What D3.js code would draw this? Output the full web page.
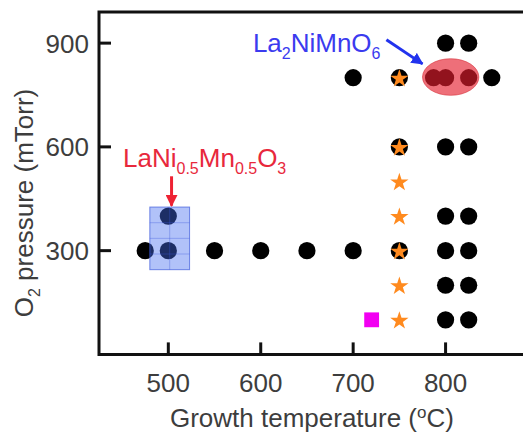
<!DOCTYPE html>
<html>
<head>
<meta charset="utf-8">
<script src="https://cdn.jsdelivr.net/npm/d3@7"></script>
<style>
  html, body { margin: 0; padding: 0; background: #fff; }
  svg { display: block; }
  text { font-family: "Liberation Sans", Arial, sans-serif; }
</style>
</head>
<body>
<svg id="chart" width="523" height="434"></svg>
<script>
// Growth conditions explored (temperature in °C, O2 pressure in mTorr)
const circleTemp     = [800, 825, 700, 750, 787, 800, 825, 850, 750, 800, 825, 500, 800, 825, 475, 500, 550, 600, 650, 700, 750, 800, 825, 800, 825, 800, 825];
const circlePressure = [900, 900, 800, 800, 800, 800, 800, 800, 600, 600, 600, 400, 400, 400, 300, 300, 300, 300, 300, 300, 300, 300, 300, 200, 200, 100, 100];

const starTemp     = [750, 750, 750, 750, 750, 750, 750];
const starPressure = [800, 600, 500, 400, 300, 200, 100];

const squareTemp     = [720];
const squarePressure = [100];

const xTicks = [500, 600, 700, 800];
const yTicks = [300, 600, 900];

// Highlighted regions (data units)
const doubleRegionTemp     = [775, 836];
const doubleRegionPressure = [749, 855];
const singleRegionTemp     = [480, 523];
const singleRegionPressure = [245, 426];

const svg = d3.select("#chart");

const x = d3.scaleLinear().domain([425, 900]).range([99, 538]);
const y = d3.scaleLinear().domain([0, 990]).range([354.4, 12]);

const ink = "#111";
const grey = "#3d3d3d";

// Blue box with faint grid
const bx0 = x(singleRegionTemp[0]), bx1 = x(singleRegionTemp[1]);
const by0 = y(singleRegionPressure[1]), by1 = y(singleRegionPressure[0]);

// Points (drawn before translucent overlays)
const pts = circleTemp.map((t, i) => ({t, p: circlePressure[i]}));
svg.append("g").selectAll("circle").data(pts).join("circle")
  .attr("cx", d => x(d.t)).attr("cy", d => y(d.p)).attr("r", 8.6)
  .attr("fill", "#000");

const stars = starTemp.map((t, i) => ({t, p: starPressure[i]}));
svg.append("g").selectAll("path").data(stars).join("path")
  .attr("transform", d => `translate(${x(d.t)},${y(d.p) + 1})`)
  .attr("d", d3.symbol().type(d3.symbolStar).size(104))
  .attr("fill", "#ff8a1e");

const squares = squareTemp.map((t, i) => ({t, p: squarePressure[i]}));
svg.append("g").selectAll("path").data(squares).join("path")
  .attr("transform", d => `translate(${x(d.t)},${y(d.p)})`)
  .attr("d", d3.symbol().type(d3.symbolSquare).size(220))
  .attr("fill", "#f200f2");

// Translucent blue box
svg.append("rect")
  .attr("x", bx0).attr("y", by0).attr("width", bx1 - bx0).attr("height", by1 - by0)
  .attr("fill", "rgba(70,110,240,0.42)")
  .attr("stroke", "rgba(60,90,220,0.7)").attr("stroke-width", 1);
const gridG = svg.append("g").attr("stroke", "rgba(60,90,220,0.35)").attr("stroke-width", 1);
gridG.append("line").attr("x1", (bx0 + bx1) / 2).attr("x2", (bx0 + bx1) / 2).attr("y1", by0).attr("y2", by1);
[0.25, 0.5, 0.75].forEach(f => {
  const yy = by0 + (by1 - by0) * f;
  gridG.append("line").attr("x1", bx0).attr("x2", bx1).attr("y1", yy).attr("y2", yy);
});

// Translucent red ellipse
const ecx = (x(doubleRegionTemp[0]) + x(doubleRegionTemp[1])) / 2;
const ecy = (y(doubleRegionPressure[0]) + y(doubleRegionPressure[1])) / 2;
svg.append("ellipse")
  .attr("cx", ecx).attr("cy", ecy)
  .attr("rx", (x(doubleRegionTemp[1]) - x(doubleRegionTemp[0])) / 2)
  .attr("ry", (y(doubleRegionPressure[0]) - y(doubleRegionPressure[1])) / 2)
  .attr("fill", "rgba(228,30,45,0.64)")
  .attr("stroke", "rgba(210,30,40,0.5)").attr("stroke-width", 1);

// Axes frame (right edge runs past the visible area)
svg.append("path")
  .attr("d", `M${x.range()[1] + 5},${y.range()[1]} H${x.range()[0]} V${y.range()[0]} H${x.range()[1] + 5}`)
  .attr("fill", "none").attr("stroke", ink).attr("stroke-width", 3)
  .attr("stroke-linejoin", "miter");

// Inward ticks
svg.append("g").selectAll("line").data(xTicks).join("line")
  .attr("x1", d => x(d)).attr("x2", d => x(d))
  .attr("y1", y.range()[0]).attr("y2", y.range()[0] - 12)
  .attr("stroke", ink).attr("stroke-width", 3);
svg.append("g").selectAll("line").data(yTicks).join("line")
  .attr("x1", x.range()[0]).attr("x2", x.range()[0] + 12)
  .attr("y1", d => y(d)).attr("y2", d => y(d))
  .attr("stroke", ink).attr("stroke-width", 3);

// Tick labels
svg.append("g").selectAll("text").data(xTicks).join("text")
  .attr("x", d => x(d)).attr("y", 392)
  .attr("text-anchor", "middle").attr("font-size", 26).attr("fill", grey)
  .text(d => d);
svg.append("g").selectAll("text").data(yTicks).join("text")
  .attr("x", 89).attr("y", d => y(d) + 9.5)
  .attr("text-anchor", "end").attr("font-size", 26).attr("fill", grey)
  .text(d => d);

// Axis titles
const xt = svg.append("text")
  .attr("x", (x(500) + x(800)) / 2 + 5).attr("y", 427)
  .attr("text-anchor", "middle").attr("font-size", 26).attr("fill", grey);
xt.append("tspan").text("Growth temperature (");
xt.append("tspan").attr("font-size", 17).attr("dy", -9).text("o");
xt.append("tspan").attr("dy", 9).text("C)");

const yt = svg.append("text")
  .attr("transform", "translate(33,203) rotate(-90)")
  .attr("text-anchor", "middle").attr("font-size", 26).attr("fill", grey);
yt.append("tspan").text("O");
yt.append("tspan").attr("font-size", 16).attr("dy", 7).text("2");
yt.append("tspan").attr("dy", -7).text(" pressure (mTorr)");

// Arrow markers
const defs = svg.append("defs");
function marker(id, color) {
  defs.append("marker").attr("id", id)
    .attr("viewBox", "0 0 10 10").attr("refX", 9).attr("refY", 5)
    .attr("markerWidth", 4).attr("markerHeight", 4)
    .attr("markerUnits", "strokeWidth").attr("orient", "auto")
    .append("path").attr("d", "M0,0 L10,5 L0,10 Z").attr("fill", color);
}
marker("arrowBlue", "#2233ee");
marker("arrowRed", "#ee2233");

// La2NiMnO6 label and arrow
const blue = "#3b3bef";
const lb = svg.append("text").attr("x", x(591.5)).attr("y", y(875))
  .attr("font-size", 26).attr("fill", blue);
lb.append("tspan").text("La");
lb.append("tspan").attr("font-size", 16).attr("dy", 7.5).text("2");
lb.append("tspan").attr("dy", -7.5).text("NiMnO");
lb.append("tspan").attr("font-size", 16).attr("dy", 7.5).text("6");
svg.append("line")
  .attr("x1", x(736)).attr("y1", y(910)).attr("x2", x(775)).attr("y2", y(840))
  .attr("stroke", "#2233ee").attr("stroke-width", 3)
  .attr("marker-end", "url(#arrowBlue)");

// LaNi0.5Mn0.5O3 label and arrow
const red = "#e8283c";
const lr = svg.append("text").attr("x", x(451)).attr("y", y(543))
  .attr("font-size", 26).attr("fill", red);
lr.append("tspan").text("LaNi");
lr.append("tspan").attr("font-size", 16).attr("dy", 7.5).text("0.5");
lr.append("tspan").attr("dy", -7.5).text("Mn");
lr.append("tspan").attr("font-size", 16).attr("dy", 7.5).text("0.5");
lr.append("tspan").attr("dy", -7.5).text("O");
lr.append("tspan").attr("font-size", 16).attr("dy", 7.5).text("3");
svg.append("line")
  .attr("x1", x(503.5)).attr("y1", y(515)).attr("x2", x(503.5)).attr("y2", y(430))
  .attr("stroke", "#ee2233").attr("stroke-width", 3)
  .attr("marker-end", "url(#arrowRed)");
</script>
</body>
</html>
